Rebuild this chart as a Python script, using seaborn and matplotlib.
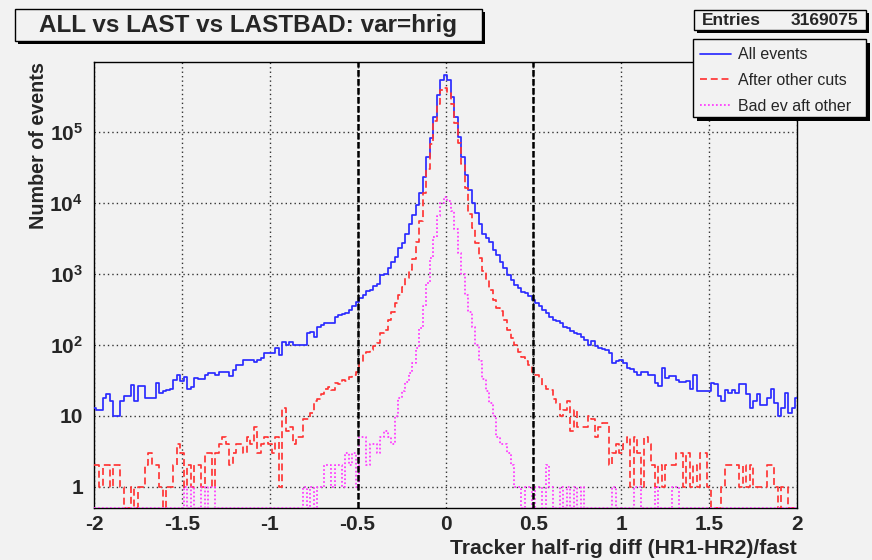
import numpy as np
import pandas as pd
import seaborn as sns
import matplotlib
matplotlib.use("Agg")
import matplotlib.pyplot as plt
from matplotlib.patches import Rectangle
from matplotlib.ticker import MultipleLocator, LogLocator, FixedLocator, FixedFormatter, NullFormatter

# ---------------- data ----------------
x_lo, x_hi, bin_w = -2.0, 2.0, 0.02          # histogram bins centred on -2.00 ... 2.00
all_events = [
    13, 12, 12, 18, 20, 16, 10, 10, 16, 19,
    19, 27, 16, 26, 26, 18, 18, 18, 29, 21,
    22, 23, 24, 32, 38, 31, 35, 24, 25, 34,
    33, 33, 38, 40, 40, 37, 42, 42, 42, 36,
    44, 52, 52, 62, 62, 62, 58, 62, 66, 77,
    76, 76, 90, 72, 108, 100, 108, 100, 100, 100,
    100, 146, 150, 130, 180, 190, 200, 200, 200, 245,
    260, 270, 280, 311, 347, 395, 454, 506, 564, 600,
    680, 723, 968, 1000, 1200, 1490, 1750, 2300, 2700, 3700,
    5100, 6800, 9300, 13800, 23400, 44600, 82000, 164000, 330000, 540000,
    630000, 540000, 315000, 165000, 85000, 45000, 24700, 15000, 10000, 7200,
    5100, 3700, 3200, 2850, 2180, 1850, 1490, 1200, 970, 820,
    700, 630, 560, 530, 480, 430, 385, 347, 311, 280,
    250, 225, 215, 200, 181, 175, 155, 147, 140, 130,
    118, 100, 112, 95, 90, 87, 85, 76, 55, 60,
    62, 55, 47, 45, 41, 38, 42, 42, 37, 37,
    29, 26, 47, 34, 36, 36, 32, 30, 30, 31,
    24, 37, 22, 22, 22, 22, 29, 28, 19, 16,
    23, 21, 23, 21, 28, 28, 20, 13, 16, 20,
    14, 14, 18, 24, 15, 10, 13, 21, 11, 13,
    18,
]
after_cuts = [
    2, 2, 1, 2, 2, 1, 2, 2, 1, 0,
    0, 1, 0, 1, 1, 2, 3, 2, 2, 1,
    0, 1, 1, 2, 4, 3, 1, 2, 1, 2,
    2, 1, 3, 3, 1, 3, 4, 5, 4, 2,
    3, 4, 4, 3, 5, 4, 7, 3, 4, 5,
    4, 3, 5, 1, 13, 6, 7, 4, 5, 5,
    9, 9, 11, 16, 17, 20, 24, 25, 23, 29,
    28, 32, 31, 35, 38, 42, 58, 76, 80, 84,
    95, 105, 146, 160, 225, 290, 385, 500, 660, 870,
    1140, 1600, 2800, 5500, 14000, 30000, 68000, 145000, 250000, 390000,
    420000, 350000, 250000, 135000, 70000, 35000, 16000, 7000, 4500, 2700,
    1700, 1100, 820, 590, 430, 330, 300, 225, 160, 125,
    100, 80, 68, 60, 52, 42, 38, 34, 26, 24,
    23, 17, 15, 10, 12, 16, 6, 12, 7, 7,
    7, 10, 9, 5, 7, 8, 8, 2, 3, 4,
    3, 4, 5, 1, 5, 3, 1, 5, 4, 2,
    1, 2, 1, 2, 2, 2, 3, 3, 1, 3,
    1, 2, 1, 3, 3, 1, 0, 0, 0, 1,
    2, 2, 2, 2, 1, 2, 1, 2, 1, 1,
    1, 1, 2, 2, 1, 0, 1, 1, 0, 0,
    0,
]
bad_after = [
    0, 0, 0, 0, 0, 0, 0, 0, 0, 0,
    0, 0, 0, 0, 0, 0, 0, 0, 0, 0,
    0, 0, 0, 0, 0, 0, 1, 0, 1, 0,
    0, 1, 0, 1, 1, 0, 0, 0, 0, 0,
    0, 0, 0, 0, 0, 0, 0, 0, 0, 0,
    0, 0, 0, 0, 0, 0, 0, 0, 0, 0,
    1, 0, 1, 0, 1, 1, 2, 2, 1, 2,
    2, 1, 3, 2, 3, 1, 5, 5, 2, 4,
    4, 3, 5, 6, 5, 4, 10, 18, 22, 30,
    40, 55, 90, 170, 350, 750, 1650, 3300, 6500, 10000,
    12300, 10500, 7800, 4300, 2000, 1000, 500, 290, 180, 100,
    60, 33, 22, 15, 10, 5, 4, 4, 3, 2,
    1, 1, 0, 1, 1, 0, 1, 1, 0, 2,
    1, 0, 0, 1, 0, 1, 0, 1, 0, 1,
    0, 0, 0, 0, 0, 0, 0, 0, 1, 0,
    0, 0, 0, 0, 1, 1, 0, 0, 0, 0,
    1, 0, 0, 0, 0, 1, 1, 0, 0, 0,
    0, 0, 0, 0, 0, 0, 0, 0, 0, 0,
    0, 0, 0, 0, 0, 0, 0, 0, 0, 0,
    0, 0, 0, 0, 0, 0, 0, 0, 0, 0,
    0,
]
series_names = ["All events", "After other cuts", "Bad ev aft other"]
cut_values = [-0.5, 0.5]
x_tick_values = [-2, -1.5, -1, -0.5, 0, 0.5, 1, 1.5, 2]
x_tick_labels = ["-2", "-1.5", "-1", "-0.5", "0", "0.5", "1", "1.5", "2"]
y_tick_values = [1, 10, 100, 1000, 10000, 100000]
y_tick_labels = ["1", "10", "$10^{2}$", "$10^{3}$", "$10^{4}$", "$10^{5}$"]
title_text = "ALL vs LAST vs LASTBAD: var=hrig"
entries_value = "3169075"
x_title = "Tracker half-rig diff (HR1-HR2)/fast"
y_title = "Number of events"

# ---------------- style ----------------
BG = "#f2f2f2"
W, H = 872, 560
YMIN, YMAX = 0.5, 9.7e5
colors = ["#2b2bff", "#ff3535", "#ff35ff"]
lstyles = ["-", (0, (4, 2.2)), (0, (1, 1.3))]

sns.set_theme(style="white")
plt.rcParams["font.family"] = ["Liberation Sans", "DejaVu Sans"]
plt.rcParams["axes.unicode_minus"] = False
plt.rcParams["mathtext.fontset"] = "custom"
plt.rcParams["mathtext.rm"] = "Liberation Sans:bold"
plt.rcParams["mathtext.it"] = "Liberation Sans:bold"
plt.rcParams["mathtext.bf"] = "Liberation Sans:bold"

centers = np.round(np.linspace(x_lo, x_hi, len(all_events)), 2)
frames = []
for name, vals in zip(series_names, [all_events, after_cuts, bad_after]):
    frames.append(pd.DataFrame({"x": centers, "count": vals, "series": name}))
df = pd.concat(frames, ignore_index=True)
# empty bins are drawn on the bottom of the frame (as ROOT does on a log axis)
df["shown"] = df["count"].where(df["count"] > 0, YMIN).astype(float)

fig = plt.figure(figsize=(W / 100, H / 100), dpi=100, facecolor=BG)
ax = fig.add_axes([94 / W, (H - 508) / H, 703 / W, 446 / H], facecolor=BG)


def fx(p):
    return p / W


def fy(p):
    return 1 - p / H


for name, c, ls in zip(series_names, colors, lstyles):
    sns.lineplot(data=df[df["series"] == name], x="x", y="shown", color=c,
                 linestyle=ls, linewidth=1.25, drawstyle="steps-mid",
                 estimator=None, ax=ax, label=name, legend=False, zorder=3)

ax.set_yscale("log")
ax.set_xlim(x_lo, x_hi)
ax.set_ylim(YMIN, YMAX)

# grid
ax.xaxis.set_major_locator(FixedLocator(x_tick_values))
ax.xaxis.set_major_formatter(FixedFormatter(x_tick_labels))
ax.xaxis.set_minor_locator(MultipleLocator(0.1))
ax.yaxis.set_major_locator(FixedLocator(y_tick_values))
ax.yaxis.set_major_formatter(FixedFormatter(y_tick_labels))
ax.yaxis.set_minor_locator(LogLocator(base=10, subs=np.arange(2, 10)))
ax.yaxis.set_minor_formatter(NullFormatter())
ax.grid(True, which="major", color="#333333", linestyle=(0, (1, 2.2)), linewidth=1.0, zorder=1)

for cv in cut_values:
    ax.axvline(cv, color="black", linewidth=1.8, linestyle=(0, (2.6, 1.0)), zorder=4)

ax.tick_params(axis="both", which="major", direction="in", length=8, width=1, color="black",
               labelsize=15, top=False, right=False)
ax.tick_params(axis="both", which="minor", direction="in", length=4, width=1, color="black",
               top=False, right=False)
ax.tick_params(axis="x", which="major", pad=5)
ax.tick_params(axis="y", which="major", pad=8)
for lab in ax.get_xticklabels() + ax.get_yticklabels():
    lab.set_fontweight("bold")
for sp in ax.spines.values():
    sp.set_color("black")
    sp.set_linewidth(1.0)
    sp.set_visible(True)

ax.set_xlabel("")
ax.set_ylabel("")
fig.text(fx(797), fy(548), x_title, ha="right", va="center", fontsize=15.2, fontweight="bold")
fig.text(fx(38), fy(62), y_title, ha="center", va="top", rotation=90, fontsize=14.2, fontweight="bold")


# boxes with ROOT-like shadow
def shadow_box(x0, y0, x1, y1, off=3):
    fig.add_artist(Rectangle((fx(x0 + off), fy(y1 + off)), (x1 - x0) / W, (y1 - y0) / H,
                             transform=fig.transFigure, facecolor="black", edgecolor="none", zorder=8))
    fig.add_artist(Rectangle((fx(x0), fy(y1)), (x1 - x0) / W, (y1 - y0) / H,
                             transform=fig.transFigure, facecolor=BG, edgecolor="black", linewidth=1, zorder=9))


shadow_box(15, 9, 482, 41)
fig.text(fx(248), fy(25.5), title_text, ha="center", va="center", fontsize=17.5,
         fontweight="bold", zorder=10)

shadow_box(694, 10, 866, 30)
fig.text(fx(702), fy(20.5), "Entries", ha="left", va="center", fontsize=12.5, fontweight="bold", zorder=10)
fig.text(fx(858), fy(20.5), entries_value, ha="right", va="center", fontsize=12.5, fontweight="bold", zorder=10)

shadow_box(693, 39, 866, 117, off=4)
handles = ax.get_lines()[:3]
leg = fig.legend(handles=handles, labels=series_names, loc="upper left",
                 bbox_to_anchor=(fx(693), fy(117), 173 / W, 77 / H), mode="expand",
                 frameon=False, fontsize=11.5, handlelength=1.9, handletextpad=0.45,
                 labelspacing=0.68, borderpad=0.45, borderaxespad=0)
leg.set_zorder(11)

fig.savefig("out.png", dpi=100, facecolor=BG)
